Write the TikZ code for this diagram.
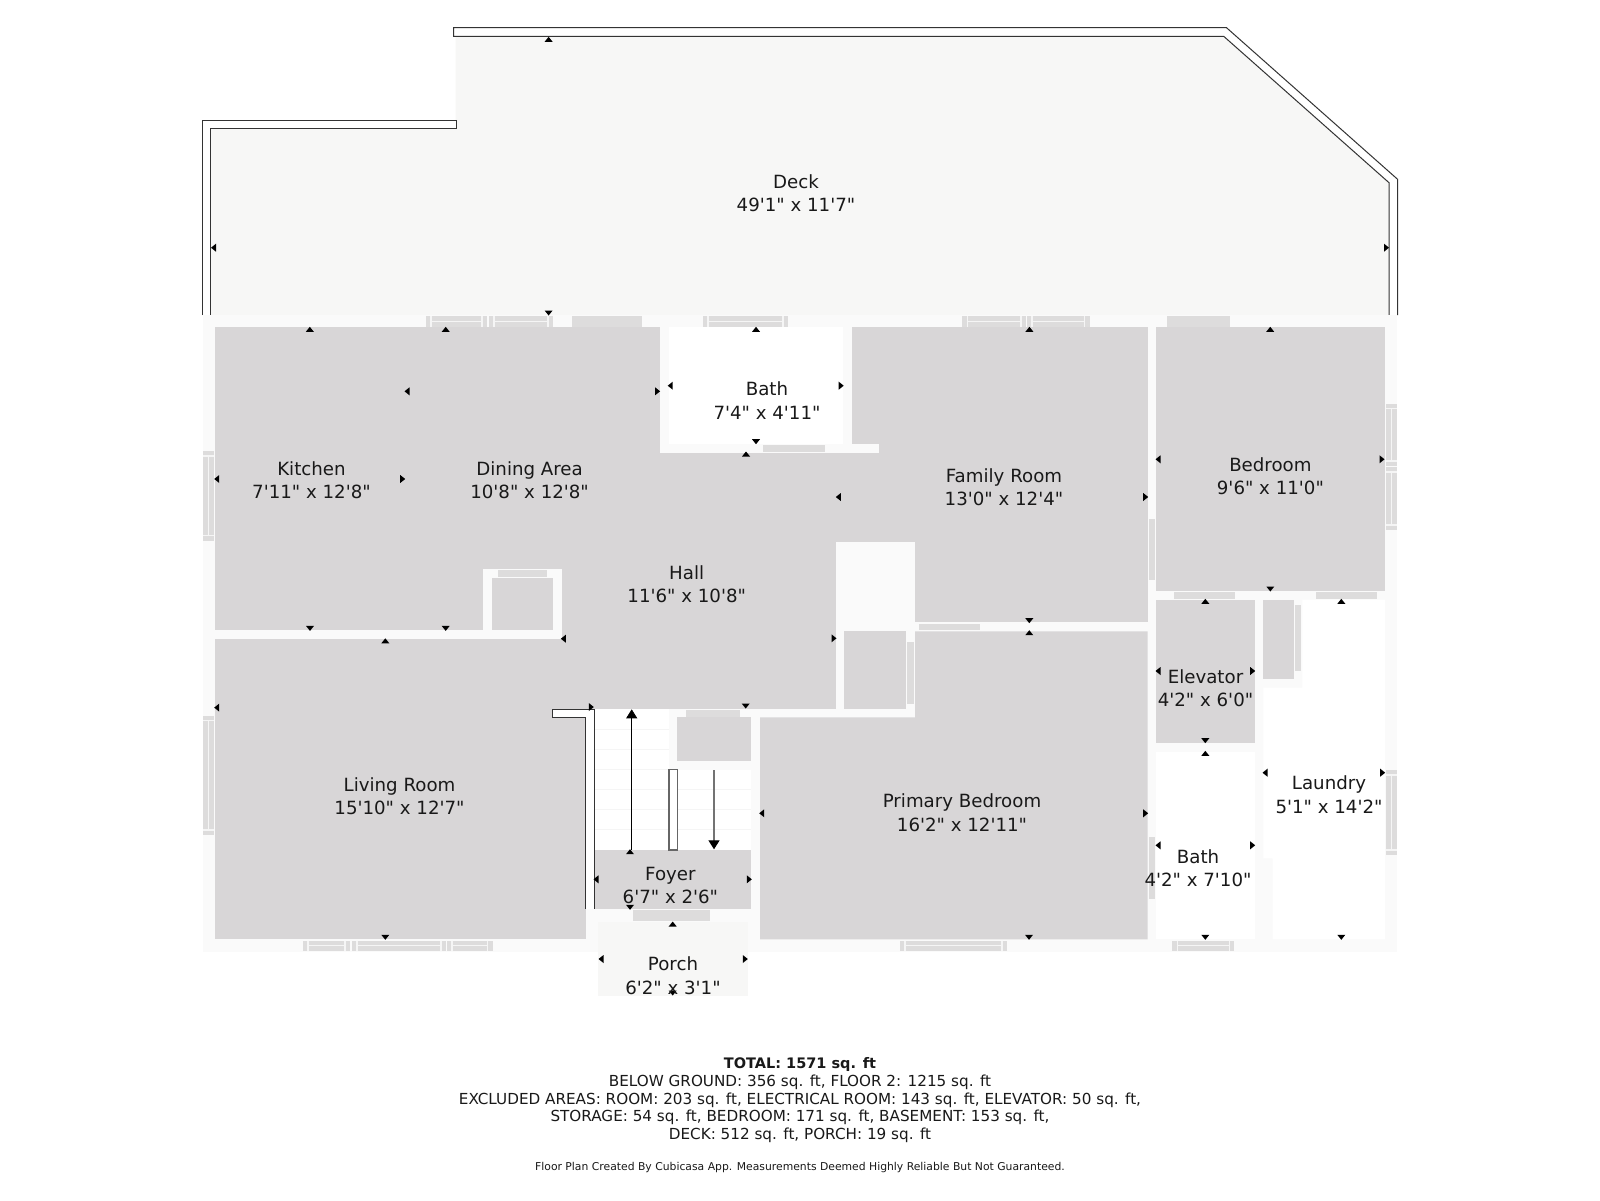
\documentclass[tikz,border=0pt]{standalone}
\usepackage{fontspec}
\setmainfont{DejaVu Sans}[Ligatures=TeXOff]
\usetikzlibrary{arrows.meta}
\definecolor{roomgrey}{HTML}{D8D6D7}
\definecolor{wallwhite}{HTML}{FAFAFA}
\definecolor{deckfill}{HTML}{F7F7F6}
\definecolor{wingrey}{HTML}{DDDCDC}
\definecolor{winline}{HTML}{F5F5F5}
\definecolor{walldark}{HTML}{333333}
\tikzset{
  room/.style={fill=roomgrey},
  wetroom/.style={fill=white},
  wallbase/.style={fill=wallwhite},
  railing/.style={fill=white,draw=walldark,line width=0.5pt},
  roomlabel/.style={align=center,inner sep=0pt,text=black!90,font=\fontsize{9.1}{11.75}\selectfont},
  footlabel/.style={align=center,inner sep=0pt,text=black!90,font=\fontsize{7.6}{8.85}\selectfont},
  stairrun/.style={line width=0.4pt,-{Triangle[length=4.5pt,width=5.5pt,color=black]}}
}
\newcommand{\winh}[4]{%
  \fill[wingrey] (#1,#3) rectangle (#2,#4);
  \draw[winline,line width=0.6pt] ({#1+5},#3)--({#1+5},#4);
  \draw[winline,line width=0.6pt] ({#2-5},#3)--({#2-5},#4);
  \draw[winline,line width=0.6pt] ({#1+5},{(#3+#4)/2})--({#2-5},{(#3+#4)/2});
}
\newcommand{\winv}[4]{%
  \fill[wingrey] (#1,#3) rectangle (#2,#4);
  \draw[winline,line width=0.6pt] (#1,{#3+5})--(#2,{#3+5});
  \draw[winline,line width=0.6pt] (#1,{#4-5})--(#2,{#4-5});
  \draw[winline,line width=0.6pt] ({(#1+#2)/2},{#3+5})--({(#1+#2)/2},{#4-5});
}
\begin{document}
\begin{tikzpicture}[x=0.5pt,y=-0.5pt]
\useasboundingbox (0,0) rectangle (1600,1200);
\fill[white] (0,0) rectangle (1600,1200);
% deck and its railing
\fill[deckfill] (455.5,36.3)--(1223.7,36.3)--(1389,182.7)--(1389,315)--(210.6,315)--(210.6,128.3)--(455.5,128.3)--cycle;
\filldraw[railing] (1397.6,315)--(1397.6,179.3)--(1226.5,27.7)--(453.5,27.7)--(453.5,36.3)--(1223.7,36.3)--(1389,182.7)--(1389,315);
\filldraw[railing] (202.4,315)--(202.4,120)--(456,120)--(456,128.3)--(210.6,128.3)--(210.6,315);
% walls
\fill[wallbase] (202.5,315) rectangle (1397,951.5);
% rooms
\fill[room] (215,327.3) rectangle (660,569);
\fill[room] (215,569) rectangle (483,630);
\fill[room] (562,452.7) rectangle (835.7,708.7);
\fill[room] (215,639) rectangle (586,939.3);
\fill[room] (852,327.3) rectangle (1147.7,622.3);
\fill[room] (830,452.7) rectangle (860,541.7);
\fill[wallbase] (852,444) rectangle (879,452.7);
\fill[wallbase] (835.7,541.7) rectangle (915,717.3);
\fill[room] (844.3,631.3) rectangle (906.3,708.7);
\fill[room] (760,717.3)--(915,717.3)--(915,631.3)--(1147.7,631.3)--(1147.7,939.3)--(760,939.3)--cycle;
\fill[room] (1156.3,327.3) rectangle (1385,591);
\fill[room] (1156.3,599.7) rectangle (1254.7,742.7);
\fill[room] (1263.3,599.7) rectangle (1293.7,678.7);
\fill[room] (492,577.7) rectangle (553,630);
\fill[room] (677.3,717.3) rectangle (751,760.7);
\fill[room] (594.3,850) rectangle (751,909.3);
\fill[wetroom] (668.6,327.3) rectangle (843.3,444);
\fill[wetroom] (1156.3,751.7) rectangle (1254.7,939.3);
\fill[wetroom] (1302.3,599.7)--(1385,599.7)--(1385,939.3)--(1272.7,939.3)--(1272.7,858.3)--(1263.3,858.3)--(1263.3,687.7)--(1302.3,687.7)--cycle;
% stairs
\fill[wetroom] (594.3,708.7) rectangle (668.7,850);
\fill[wetroom] (677.3,770) rectangle (751,850);
\foreach \y in {729,749.3,769.3,789.3,809.3,829.3}
  \draw[winline,line width=0.3pt] (594.3,\y)--(668.7,\y);
\foreach \y in {789.3,809.3,829.3}
  \draw[winline,line width=0.3pt] (677.3,\y)--(751,\y);
\filldraw[railing] (585.7,909.3)--(585.7,717.3)--(552.3,717.3)--(552.3,709)--(594.3,709)--(594.3,909.3);
\filldraw[fill=white,draw=black!60,line width=0.8pt] (668.7,769.3) rectangle (677.3,850);
\coordinate (upstart) at (631.7,850);
\coordinate (upend) at (631.7,709.3);
\coordinate (downstart) at (714,770);
\coordinate (downend) at (714,849.3);
\draw[stairrun] (upstart)--(upend);
\draw[stairrun,black!55,line width=0.6pt] (downstart)--(downend);
% porch
\fill[deckfill] (598.3,921.7) rectangle (747.7,996);
% door strips
\foreach \xa/\ya/\xb/\yb in {
  572/316/641.6/326.5, 1167/316/1230/326.5,
  763/445/825/452, 498/570/546.7/577, 686/710/740/716.7,
  632.7/910/710/921, 918.7/623.7/980.3/630.3,
  1148.7/518.7/1155.3/580.3, 907/642.3/914.3/704.3,
  1174/592.3/1235.3/598.7, 1315.7/592.3/1377/598.7,
  1294.7/605/1301.3/671, 1148.7/836.7/1155.3/899}
  \fill[wingrey] (\xa,\ya) rectangle (\xb,\yb);
% windows
\winh{426}{487}{316}{326.5}
\winh{489}{553}{316}{326.5}
\winh{703}{788}{316}{326.5}
\winh{962.4}{1026}{316}{326.5}
\winh{1027}{1089.8}{316}{326.5}
\winh{303}{350}{940.5}{951}
\winh{352}{446}{940.5}{951}
\winh{447}{492.7}{940.5}{951}
\winh{1172.3}{1234.3}{940.5}{951}
\winh{900}{1007}{940.5}{951}
\winv{203.2}{214.3}{451}{540.5}
\winv{203.2}{214.3}{715.5}{835}
\winv{1385.7}{1396.7}{403.5}{466}
\winv{1385.7}{1396.7}{467}{530}
\winv{1385.7}{1396.7}{770}{855}
% dimension marks
\foreach \x/\y in {548.6/39.3,309.8/329.3,445.7/329.3,756/329.3,1029.4/329.3,1270.2/329.3,746/454,
  385.3/640.8,630/851.7,672.7/924,1029.3/632.7,1205.3/601.3,1341.3/601.3,1205.3/753.3}
  \fill[black] (\x-4,\y+2.5)--(\x+4,\y+2.5)--(\x,\y-2.5)--cycle;
\foreach \x/\y in {548.6/313,756/441.7,310/628.4,445.7/628.4,385.3/937.3,745.7/706,630/907.3,672.7/993,
  1029.3/620.7,1270.3/589,1205.3/740.7,1205.3/937.3,1341.3/937.3,1029/937.3}
  \fill[black] (\x-4,\y-2.5)--(\x+4,\y-2.5)--(\x,\y+2.5)--cycle;
\foreach \x/\y in {213.5/247.7,407/391.3,670.2/385.7,1158/459.3,216.7/479,563.3/638.7,216.7/707.6,596/879.3,
  761.7/813.3,601/959,838.3/497,1158/671,1158/845.3,1265/772.7}
  \fill[black] (\x+2.5,\y-4)--(\x+2.5,\y+4)--(\x-2.5,\y)--cycle;
\foreach \x/\y in {1386.5/247.7,657.6/391.3,841.2/385.7,1382/459.3,402.7/479,591.3/707,749.3/879.3,745.3/959,
  1145.7/497,834/638.3,1252.7/671,1252.7/845.3,1145.7/813.3,1382.7/772.7}
  \fill[black] (\x-2.5,\y-4)--(\x-2.5,\y+4)--(\x+2.5,\y)--cycle;
% labels
\node[roomlabel] (deck) at (796,193) {Deck\\49'1" x 11'7"};
\node[roomlabel] (kitchen) at (311.5,480) {Kitchen\\7'11" x 12'8"};
\node[roomlabel] (dining) at (529.6,480) {Dining Area\\10'8" x 12'8"};
\node[roomlabel] (bathtop) at (767,400.5) {Bath\\7'4" x 4'11"};
\node[roomlabel] (family) at (1004,487) {Family Room\\13'0" x 12'4"};
\node[roomlabel] (bedroom) at (1270.4,476) {Bedroom\\9'6" x 11'0"};
\node[roomlabel] (hall) at (686.7,584) {Hall\\11'6" x 10'8"};
\node[roomlabel] (elevator) at (1205.5,688) {Elevator\\4'2" x 6'0"};
\node[roomlabel] (living) at (399.5,796) {Living Room\\15'10" x 12'7"};
\node[roomlabel] (primary) at (962,812.5) {Primary Bedroom\\16'2" x 12'11"};
\node[roomlabel] (laundry) at (1329,794.5) {Laundry\\5'1" x 14'2"};
\node[roomlabel] (bathlow) at (1198,868) {Bath\\4'2" x 7'10"};
\node[roomlabel] (foyer) at (670.4,885.5) {Foyer\\6'7" x 2'6"};
\node[roomlabel] (porch) at (673,975.5) {Porch\\6'2" x 3'1"};
% totals
\node[footlabel] (totals) at (800,1100.3) {{\fontsize{7.25}{8.85}\selectfont\textbf{TOTAL: 1571 sq. ft}}\\
BELOW GROUND: 356 sq. ft, FLOOR 2: 1215 sq. ft\\
EXCLUDED AREAS: ROOM: 203 sq. ft, ELECTRICAL ROOM: 143 sq. ft, ELEVATOR: 50 sq. ft,\\
STORAGE: 54 sq. ft, BEDROOM: 171 sq. ft, BASEMENT: 153 sq. ft,\\
DECK: 512 sq. ft, PORCH: 19 sq. ft};
\node[inner sep=0pt,text=black!90,font=\fontsize{5.4}{7}\selectfont] (credit) at (800,1167) {Floor Plan Created By Cubicasa App. Measurements Deemed Highly Reliable But Not Guaranteed.};
\end{tikzpicture}
\end{document}
